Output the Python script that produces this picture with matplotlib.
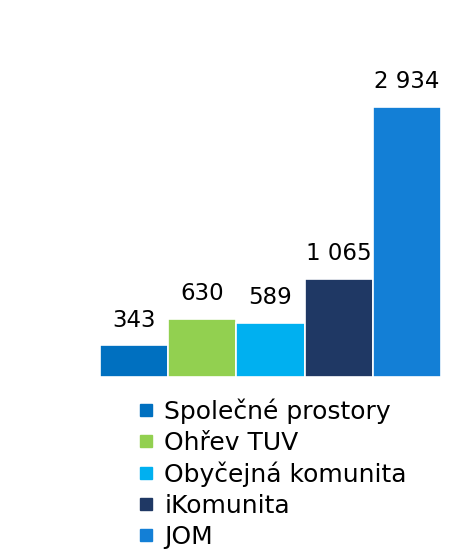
import matplotlib.pyplot as plt
from matplotlib.lines import Line2D

categories = ['Společné prostory', 'Ohřev TUV', 'Obyčejná komunita', 'iKomunita', 'JOM']
values = [343, 630, 589, 1065, 2934]
value_labels = ['343', '630', '589', '1 065', '2 934']
colors = ['#0070C0', '#92D050', '#00B0F0', '#1F3864', '#137FD6']

fig = plt.figure(figsize=(4.59, 5.52), dpi=100)
ax = fig.add_axes([100 / 459, 1 - 377 / 552, 341 / 459, 270 / 552])

x = range(len(values))
bars = ax.bar(x, values, width=1.0, color=colors, edgecolor='white', linewidth=1.2)
ax.set_xlim(-0.5, len(values) - 0.5)
ax.set_ylim(0, max(values))

for b, lab in zip(bars, value_labels):
    ax.annotate(lab, (b.get_x() + b.get_width() / 2, b.get_height()),
                xytext=(0, 10), textcoords='offset points',
                ha='center', va='bottom', fontsize=16.5, color='black', clip_on=False)

ax.axis('off')

handles = [Line2D([], [], marker='s', linestyle='none', markersize=9, color=c) for c in colors]
fig.legend(handles, categories, loc='upper left', bbox_to_anchor=(123 / 459, 1 - 388 / 552),
           frameon=False, fontsize=18, handletextpad=0.25, labelspacing=0.28,
           handlelength=1.0, borderaxespad=0)

plt.savefig('out.png', dpi=100)
